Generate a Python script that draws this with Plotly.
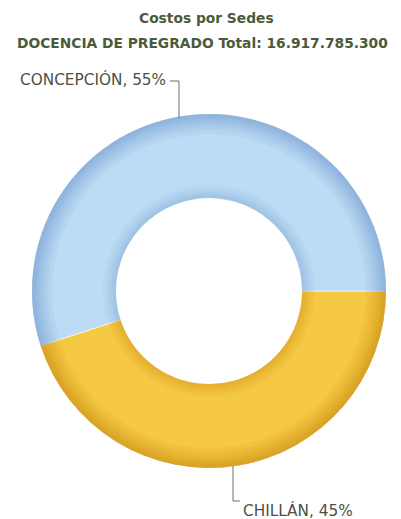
import plotly.graph_objects as go

# ---- data ----
sedes = ["CHILLÁN", "CONCEPCIÓN"]
porcentajes = [45, 55]
colores = ["#F6C944", "#BDDBF4"]
colores_borde = ["#CF9518", "#7FA8D3"]
titulo_1 = "Costos por Sedes"
titulo_2 = "DOCENCIA DE PREGRADO Total: 16.917.785.300"

W, H = 401, 519
OFF = 8                 # page body margin of the html
CX, CY = 209, 291       # pixel centre of the donut (in screenshot)
R_OUT, R_IN = 177, 93


def px(x):
    return (x - OFF) / W


def py(y):
    return 1 - (y - OFF) / H


def dom(r):
    return dict(x=[px(CX - r), px(CX + r)], y=[py(CY + r), py(CY - r)])


def rgba(hexc, a):
    h = hexc.lstrip("#")
    r, g, b = int(h[0:2], 16), int(h[2:4], 16), int(h[4:6], 16)
    return f"rgba({r},{g},{b},{a})"


fig = go.Figure()
fig.add_trace(go.Pie(
    labels=sedes, values=porcentajes, sort=False, direction="clockwise",
    rotation=90, hole=R_IN / R_OUT, domain=dom(R_OUT),
    marker=dict(colors=colores, line=dict(color="rgba(255,255,255,0.6)", width=1)),
    textinfo="none", hoverinfo="label+percent", showlegend=False,
))

# decorative shading rings (torus look), same slices, darker tints
rings = [(R_OUT, R_OUT - d, 0.12) for d in (1.5, 3, 4.5, 6, 8, 10, 13, 16, 20)]
rings += [(R_IN + d, R_IN, 0.09) for d in (1.5, 3, 5, 7, 10, 13)]
for ro, ri, a in rings:
    fig.add_trace(go.Pie(
        labels=sedes, values=porcentajes, sort=False, direction="clockwise",
        rotation=90, hole=ri / ro, domain=dom(ro),
        marker=dict(colors=[rgba(c, a) for c in colores_borde], line=dict(width=0)),
        textinfo="none", hoverinfo="skip", showlegend=False,
    ))

title_color = "#4B5A3A"
lab_color = "#4A5244"
fig.add_annotation(x=px(206), y=py(18), xref="paper", yref="paper",
                   xanchor="center", yanchor="middle",
                   text=f"<b>{titulo_1}</b>", showarrow=False,
                   font=dict(family="DejaVu Sans", size=13.8, color=title_color))
fig.add_annotation(x=px(202), y=py(43), xref="paper", yref="paper",
                   xanchor="center", yanchor="middle",
                   text=f"<b>{titulo_2}</b>", showarrow=False,
                   font=dict(family="DejaVu Sans", size=13.8, color=title_color))

pct = {s: p for s, p in zip(sedes, porcentajes)}
fig.add_annotation(x=px(168), y=py(79), xref="paper", yref="paper",
                   xanchor="right", yanchor="middle",
                   text=f"CONCEPCIÓN, {pct['CONCEPCIÓN']}%", showarrow=False,
                   font=dict(family="DejaVu Sans", size=15.3, color=lab_color))
fig.add_annotation(x=px(241), y=py(510), xref="paper", yref="paper",
                   xanchor="left", yanchor="middle",
                   text=f"CHILLÁN, {pct['CHILLÁN']}%", showarrow=False,
                   font=dict(family="DejaVu Sans", size=15.3, color=lab_color))

line = dict(color="#6E6E6E", width=1)
fig.add_shape(type="path", xref="paper", yref="paper",
              path=f"M {px(170)} {py(81)} L {px(179)} {py(81)} L {px(179)} {py(118)}",
              line=line)
fig.add_shape(type="path", xref="paper", yref="paper",
              path=f"M {px(233)} {py(466)} L {px(233)} {py(501)} L {px(240)} {py(501)}",
              line=line)

fig.update_layout(width=W, height=H, margin=dict(l=0, r=0, t=0, b=0),
                  paper_bgcolor="white", plot_bgcolor="white")
fig.write_html("out.html")
